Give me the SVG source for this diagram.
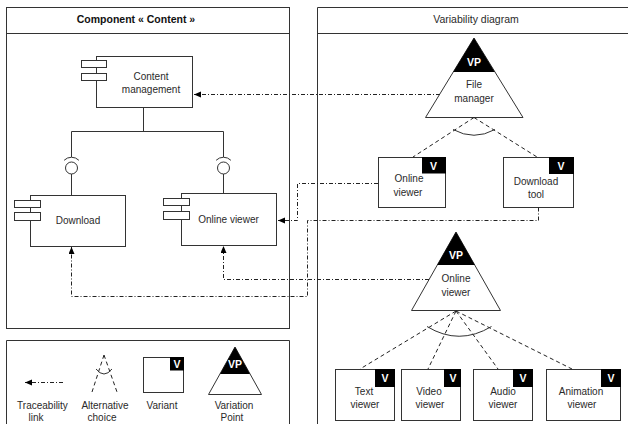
<svg xmlns="http://www.w3.org/2000/svg" width="628" height="424" viewBox="0 0 628 424">
  <style>
    text { font-family: "Liberation Sans", Arial, sans-serif; font-size: 10px; fill: #2a2a2a; text-anchor: middle; }
    .title { font-weight: bold; fill: #111; font-size: 10.5px; }
    .badge { font-weight: bold; fill: #fff; font-size: 10.5px; }
    .panel { fill: none; stroke: #333; stroke-width: 1; }
    .box { fill: #fff; stroke: #333; stroke-width: 1; }
    .ink { fill: #000; stroke: none; }
    .wire { fill: none; stroke: #333; stroke-width: 1; }
    .trace { fill: none; stroke: #222; stroke-width: 1; stroke-dasharray: 4 2 1 2; }
    .alt { fill: none; stroke: #222; stroke-width: 1; stroke-dasharray: 4 3; }
    .arc { fill: none; stroke: #333; stroke-width: 1; }
  </style>
  <defs>
    <marker id="head" markerUnits="userSpaceOnUse" markerWidth="8" markerHeight="7" refX="7" refY="3" orient="auto">
      <path d="M0,0 L7,3 L0,6 z" fill="#000"/>
    </marker>
  </defs>

  <rect width="628" height="424" fill="#fff"/>

  <!-- Left panel: component structure -->
  <g id="panel-component">
    <rect class="panel" x="6.5" y="7.5" width="283" height="321"/>
    <line class="panel" x1="6.5" y1="33.5" x2="289.5" y2="33.5"/>
    <text class="title" x="136" y="23">Component « Content »</text>
  </g>

  <!-- Right panel: variability -->
  <g id="panel-variability">
    <path class="panel" d="M640,7.5 H317.5 V430"/>
    <line class="panel" x1="317.5" y1="33.5" x2="640" y2="33.5"/>
    <text x="476" y="23" style="font-size:10.5px">Variability diagram</text>
  </g>

  <!-- Legend panel -->
  <g id="panel-legend">
    <path class="panel" d="M6.5,430 V340.5 H289.5 V430"/>
  </g>

  <!-- Components -->
  <g id="comp-content-management">
    <rect class="box" x="96.5" y="56.5" width="96" height="51"/>
    <rect class="box" x="81.5" y="60.5" width="25" height="7"/>
    <rect class="box" x="81.5" y="73.5" width="25" height="7"/>
    <text x="151" y="80">Content</text>
    <text x="151" y="93">management</text>
  </g>

  <g id="comp-download">
    <rect class="box" x="30.5" y="195.5" width="95" height="51"/>
    <rect class="box" x="14.5" y="200.5" width="26" height="7"/>
    <rect class="box" x="14.5" y="212.5" width="26" height="8"/>
    <text x="78" y="224">Download</text>
  </g>

  <g id="comp-online-viewer">
    <rect class="box" x="181.5" y="193.5" width="95" height="52"/>
    <rect class="box" x="163.5" y="198.5" width="26" height="7"/>
    <rect class="box" x="163.5" y="211.5" width="26" height="8"/>
    <text x="228.5" y="223">Online viewer</text>
  </g>

  <!-- Required / provided interfaces between components -->
  <g id="interfaces">
    <path class="wire" d="M143.5,107 V131.5 M71.5,131.5 H223.5 M71.5,131.5 V157 M223.5,131.5 V157"/>
    <path class="arc" d="M64.1,160.3 A10.5,10.5 0 0 1 78.9,160.3"/>
    <circle class="box" cx="71.5" cy="168" r="6"/>
    <path class="wire" d="M71.5,174 V195"/>
    <path class="arc" d="M216.1,160.3 A10.5,10.5 0 0 1 230.9,160.3"/>
    <circle class="box" cx="223.5" cy="168" r="6"/>
    <path class="wire" d="M223.5,174 V193"/>
  </g>

  <!-- Variation points -->
  <g id="vp-file-manager">
    <polygon class="box" points="474,38 523,117.5 425.5,117.5"/>
    <polygon class="ink" points="474,38 494.8,72 453.2,72"/>
    <text class="badge" x="474" y="66">VP</text>
    <text x="474" y="88">File</text>
    <text x="474" y="102">manager</text>
  </g>

  <g id="vp-online-viewer">
    <polygon class="box" points="456,232 500.5,310.5 411.5,310.5"/>
    <polygon class="ink" points="456,232 474.8,265 437.2,265"/>
    <text class="badge" x="456" y="259">VP</text>
    <text x="456" y="282">Online</text>
    <text x="456" y="296">viewer</text>
  </g>

  <!-- Variants -->
  <g id="var-online-viewer">
    <rect class="box" x="378.5" y="157.5" width="67" height="50"/>
    <rect class="ink" x="422" y="157" width="24" height="16.5"/>
    <text class="badge" x="433.5" y="169.5">V</text>
    <text x="409" y="182">Online</text>
    <text x="408" y="196">viewer</text>
  </g>

  <g id="var-download-tool">
    <rect class="box" x="503.5" y="157.5" width="70" height="50"/>
    <rect class="ink" x="549" y="157" width="25" height="17"/>
    <text class="badge" x="561" y="169.5">V</text>
    <text x="536" y="185">Download</text>
    <text x="536" y="198">tool</text>
  </g>

  <g id="var-text-viewer">
    <rect class="box" x="335.5" y="369.5" width="59" height="51"/>
    <rect class="ink" x="375" y="369" width="20" height="18"/>
    <text class="badge" x="385" y="382">V</text>
    <text x="364" y="395">Text</text>
    <text x="365" y="408">viewer</text>
  </g>

  <g id="var-video-viewer">
    <rect class="box" x="401.5" y="369.5" width="59" height="51"/>
    <rect class="ink" x="444" y="369" width="17" height="18"/>
    <text class="badge" x="453" y="382">V</text>
    <text x="429" y="395">Video</text>
    <text x="430" y="408">viewer</text>
  </g>

  <g id="var-audio-viewer">
    <rect class="box" x="473.5" y="369.5" width="59" height="51"/>
    <rect class="ink" x="513" y="369" width="20" height="18"/>
    <text class="badge" x="523" y="382">V</text>
    <text x="503" y="395">Audio</text>
    <text x="503" y="408">viewer</text>
  </g>

  <g id="var-animation-viewer">
    <rect class="box" x="546.5" y="369.5" width="74" height="51"/>
    <rect class="ink" x="601" y="369" width="20" height="18"/>
    <text class="badge" x="611" y="382">V</text>
    <text x="581" y="395">Animation</text>
    <text x="582" y="408">viewer</text>
  </g>

  <!-- Connectors: alternative choices and traceability links -->
  <g id="connectors">
    <path class="alt" d="M474,117.5 L413,157 M474,117.5 L537,157"/>
    <path class="arc" d="M453,129.5 Q474,141 495,129.5"/>

    <path class="alt" d="M456,311 L360,369 M456,311 L428,369 M456,311 L498,369 M456,311 L572,369"/>
    <path class="arc" d="M427,326.5 Q459,346 491.5,326.5"/>

    <path class="trace" d="M440,94.5 H194" marker-end="url(#head)"/>
    <path class="trace" d="M378,183.5 H297.5 V220.5 H278" marker-end="url(#head)"/>
    <path class="trace" d="M538.5,207.5 V220.5 H307.5 V296.5 H71.5 V247" marker-end="url(#head)"/>
    <path class="trace" d="M429,279.5 H223.5 V246" marker-end="url(#head)"/>
  </g>

  <!-- Legend -->
  <g id="legend-trace">
    <path class="trace" d="M63,382.5 H25" marker-end="url(#head)"/>
    <text x="42.5" y="409">Traceability</text>
    <text x="36" y="420.5">link</text>
  </g>
  <g id="legend-alternative">
    <path class="alt" d="M104,355 L92,392 M104,355 L117,392"/>
    <path class="arc" d="M96,369 Q104,379 112,369"/>
    <text x="105" y="409">Alternative</text>
    <text x="102" y="420.5">choice</text>
  </g>
  <g id="legend-variant">
    <rect class="box" x="143.5" y="357.5" width="40" height="35"/>
    <rect class="ink" x="170" y="357" width="14" height="13.5"/>
    <text class="badge" x="177" y="368">V</text>
    <text x="162" y="409">Variant</text>
  </g>
  <g id="legend-vp">
    <polygon class="box" points="235,347 261.5,394.5 208.5,394.5"/>
    <polygon class="ink" points="235,347 250,374 220,374"/>
    <text class="badge" x="235" y="368">VP</text>
    <text x="234" y="409">Variation</text>
    <text x="232" y="420.5">Point</text>
  </g>
</svg>
